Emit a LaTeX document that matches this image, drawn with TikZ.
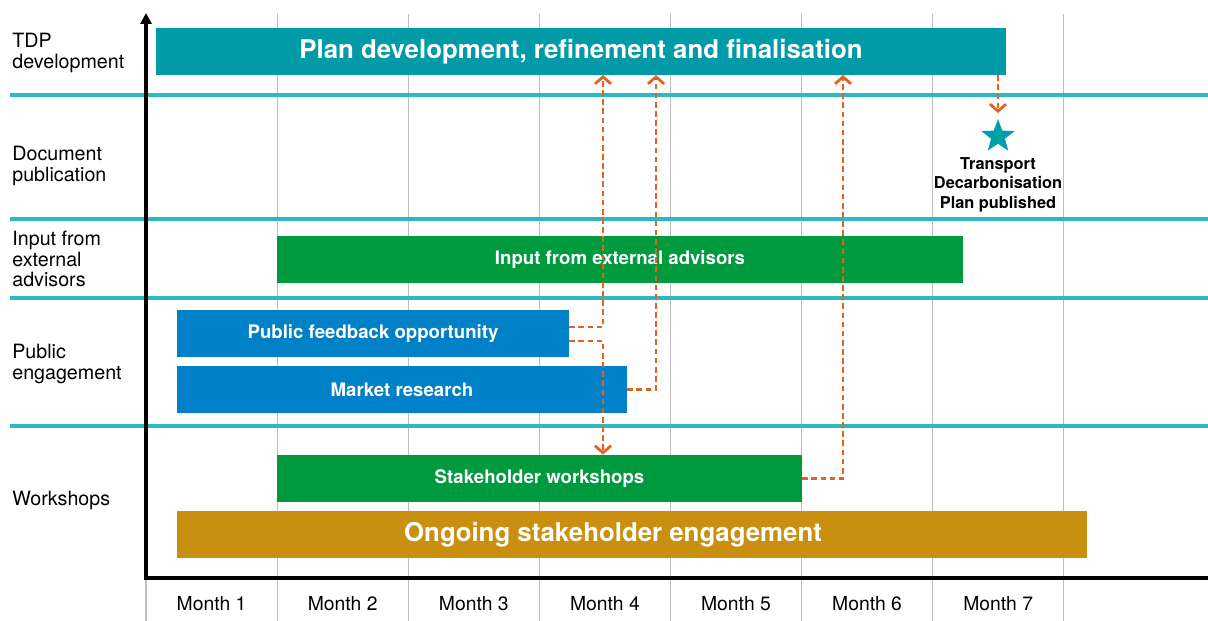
\documentclass[tikz,border=0pt]{standalone}
\usepackage{fontspec}
\setmainfont{TeX Gyre Heros}
\usepackage{tikz}
\usetikzlibrary{positioning, shapes.geometric, arrows.meta, calc}
\definecolor{tdpteal}{RGB}{0,155,166}
\definecolor{rowcyan}{RGB}{45,185,196}
\definecolor{advgreen}{RGB}{0,154,62}
\definecolor{pubblue}{RGB}{0,128,198}
\definecolor{onggold}{RGB}{200,144,14}
\definecolor{feedorange}{RGB}{224,100,30}
\definecolor{starteal}{RGB}{0,160,170}
\definecolor{gridgrey}{RGB}{190,190,190}

\begin{document}
\begin{tikzpicture}[x=0.02cm, y=-0.02cm]
\tikzstyle{bar}=[rectangle, draw=none, minimum height=0.94cm, inner sep=0pt, text=white, font=\bfseries\fontsize{10.6}{12}\selectfont]
\tikzstyle{bigbar}=[bar, font=\bfseries\fontsize{14.7}{16}\selectfont]
\tikzstyle{rowlab}=[anchor=west, align=left, inner sep=0pt, font=\fontsize{11.2}{11.6}\selectfont]
\tikzstyle{monthlab}=[inner sep=0pt, font=\fontsize{11}{12}\selectfont]
\tikzstyle{gridl}=[draw=gridgrey, line width=0.6pt]
\tikzstyle{sepline}=[draw=rowcyan, line width=2.4pt]
\tikzstyle{axis}=[draw=black, line width=2.2pt]
\tikzstyle{feed}=[draw=feedorange, line width=1.6pt, dash pattern=on 3.2pt off 2pt, -{Straight Barb[length=1.4mm, width=3.2mm, line width=1.6pt]}]
\useasboundingbox (0,0) rectangle (1208,621);
%%
%% month grid
\foreach \k in {1,...,7}
  \draw[gridl] ({146+131.1*\k},14) -- ({146+131.1*\k},621);
\draw[gridl] (146,578) -- (146,621);
\foreach \i in {1,...,7}
  \node (month\i) at ({80.5+131.1*\i},604) [monthlab] {Month \i};
%%
%% row separators
\foreach \y in {95,219,298,426}
  \draw[sepline] (10,\y) -- (1208,\y);
%%
%% axes
\coordinate (origin) at (146,578);
\coordinate (ytop) at (146,13);
\coordinate (xend) at (1208,578);
\draw[axis, -{Triangle[length=2.2mm, width=2.2mm]}] (origin) -- (ytop);
\draw[axis] ([xshift=-1.1pt]origin) -- (xend);
%%
%% row labels
\node (l1) at (12,53) [rowlab] {TDP\\development};
\node (l2) at (12,166) [rowlab] {Document\\publication};
\node (l3) at (12,259) [rowlab] {Input from\\external\\advisors};
\node (l4) at (12,364) [rowlab] {Public\\engagement};
\node (l5) at (12,500) [rowlab] {Workshops};
%%
%% bars
\node (tdp) at (581,51.5) [bigbar, fill=tdpteal, minimum width=17cm] {Plan development, refinement and finalisation};
\node (ext) at (620,259.5) [bar, fill=advgreen, minimum width=13.72cm] {Input from external advisors};
\node (pfo) at (373,333.5) [bar, fill=pubblue, minimum width=7.84cm] {Public feedback opportunity};
\node (mkt) at (402,389.5) [bar, fill=pubblue, minimum width=9cm] {Market research};
\node (wsh) at (539.5,478.5) [bar, fill=advgreen, minimum width=10.5cm] {Stakeholder workshops};
\node (ong) at (632,534.5) [bigbar, fill=onggold, minimum width=18.2cm] {Ongoing stakeholder engagement\hspace*{0.76cm}};
%%
%% publication milestone
\node (star) at (998,136.5) [star, star points=5, star point ratio=2.4, fill=starteal, minimum size=0.7cm, inner sep=0pt] {};
\node [below=2.6mm of star, align=center, inner sep=0pt, font=\bfseries\fontsize{9.3}{11}\selectfont](pub) {Transport\\Decarbonisation\\Plan published};
%%
%% feedback loops
\coordinate (up1) at (603,75);
\coordinate (up2) at (656,75);
\coordinate (up3) at (843,75);
\draw[feed] ([yshift=0.13cm]pfo.east) -| (up1);
\draw[feed] ([yshift=-0.15cm]pfo.east) -| (wsh.north -| up1);
\draw[feed] (mkt.east) -| (up2);
\draw[feed] (wsh.east) -| (up3);
\draw[feed, shorten >=0.1cm] (tdp.south -| star) -- (star.north);
\end{tikzpicture}
\end{document}
